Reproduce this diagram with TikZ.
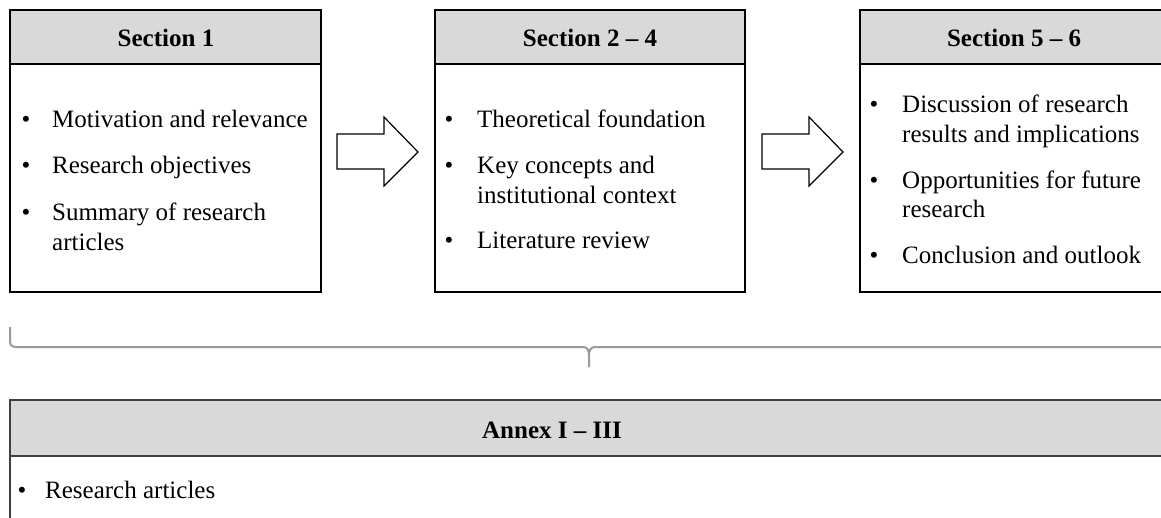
\documentclass[tikz,border=0pt]{standalone}
\usepackage{fontspec}
\setmainfont{Liberation Serif}
\definecolor{headgray}{HTML}{D9D9D9}
\definecolor{bracegray}{HTML}{9A9A9A}
\begin{document}
\begin{tikzpicture}[x=1pt,y=-1pt,
  frame/.style={draw=black, line width=1.3pt, anchor=north west, inner sep=0pt, outer sep=0pt},
  headbox/.style={frame, fill=headgray},
  htext/.style={font=\fontsize{25}{30}\selectfont\bfseries, anchor=base, inner sep=0pt},
  btext/.style={font=\fontsize{25}{30}\selectfont, anchor=base west, inner sep=0pt},
  bul/.style={font=\fontsize{25}{30}\selectfont, anchor=base, inner sep=0pt},
  blockarrow/.style={draw=black, line width=1.2pt, fill=white, line join=miter},
  bracestyle/.style={draw=bracegray, line width=2pt}]
\useasboundingbox (0,0) rectangle (1161,517);
\clip (0,0) rectangle (1161,517);
\fill[white] (0,0) rectangle (1161,517);

% Section 1
\node[frame, minimum width=311pt, minimum height=282pt] (box1) at (10,10) {};
\node[headbox, minimum width=311pt, minimum height=54pt] (h1) at (10,10) {};
\node[htext] (h1t) at (166,46) {Section 1};
\node[bul] (b11) at (26,127) {•};
\node[btext] (t11) at (52,127) {Motivation and relevance};
\node[bul] (b12) at (26,173) {•};
\node[btext] (t12) at (52,173) {Research objectives};
\node[bul] (b13) at (26,220) {•};
\node[btext] (t13) at (52,220) {Summary of research};
\node[btext] (t13b) at (52,250) {articles};

% Section 2 - 4
\node[frame, minimum width=310pt, minimum height=282pt] (box2) at (435,10) {};
\node[headbox, minimum width=310pt, minimum height=54pt] (h2) at (435,10) {};
\node[htext] (h2t) at (590,46) {Section 2 – 4};
\node[bul] (b21) at (449,127) {•};
\node[btext] (t21) at (477,127) {Theoretical foundation};
\node[bul] (b22) at (449,173) {•};
\node[btext] (t22) at (477,173) {Key concepts and};
\node[btext] (t22b) at (477,203) {institutional context};
\node[bul] (b23) at (449,248) {•};
\node[btext] (t23) at (477,248) {Literature review};

% Section 5 - 6
\node[frame, minimum width=310pt, minimum height=282pt] (box3) at (860,10) {};
\node[headbox, minimum width=310pt, minimum height=54pt] (h3) at (860,10) {};
\node[htext] (h3t) at (1014,46) {Section 5 – 6};
\node[bul] (b31) at (874,112) {•};
\node[btext] (t31) at (902,112) {Discussion of research};
\node[btext] (t31b) at (902,142) {results and implications};
\node[bul] (b32) at (874,188) {•};
\node[btext] (t32) at (902,188) {Opportunities for future};
\node[btext] (t32b) at (902,217) {research};
\node[bul] (b33) at (874,263) {•};
\node[btext] (t33) at (902,263) {Conclusion and outlook};

% block arrows
\draw[blockarrow] (337,134) -- (384,134) -- (384,117) -- (418,152) -- (384,186) -- (384,169) -- (337,169) -- cycle;
\draw[blockarrow] (762,134) -- (809,134) -- (809,117) -- (843,152) -- (809,186) -- (809,169) -- (762,169) -- cycle;

% brace
\coordinate (brL) at (10,327);
\coordinate (brM) at (589,367);
\coordinate (brR) at (1168,327);
\draw[bracestyle] (brL) -- (10,341) .. controls (10,345) and (12,347) .. (16,347)
  -- (583,347) .. controls (587,347) and (589,350) .. (589,355) -- (brM);
\draw[bracestyle] (589,355) .. controls (589,350) and (591,347) .. (595,347)
  -- (1162,347) .. controls (1166,347) and (1168,345) .. (1168,341) -- (brR);

% Annex
\node[frame, draw=black!75, line width=1.6pt, minimum width=1170pt, minimum height=160pt] (box4) at (10,400) {};
\node[headbox, draw=black!75, line width=1.6pt, minimum width=1170pt, minimum height=56pt] (h4) at (10,400) {};
\node[htext] (h4t) at (552,438) {Annex I – III};
\node[bul] (b41) at (22,498) {•};
\node[btext] (t41) at (45,498) {Research articles};
\end{tikzpicture}
\end{document}
